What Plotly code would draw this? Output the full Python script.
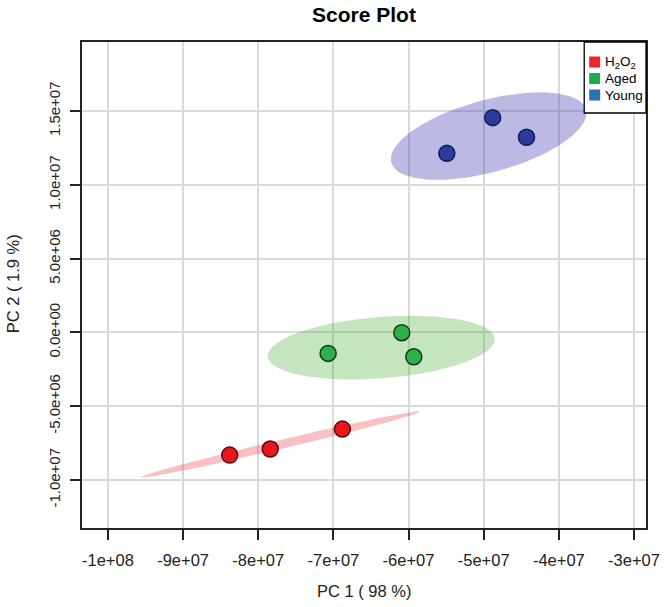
import numpy as np
import plotly.graph_objects as go

# ---- data ----
group_names = ["H<sub>2</sub>O<sub>2</sub>", "Aged", "Young"]
pc1_h2o2 = [-8.38e7, -7.84e7, -6.88e7]
pc2_h2o2 = [-8.31e6, -7.90e6, -6.55e6]
pc1_aged = [-7.07e7, -6.09e7, -5.93e7]
pc2_aged = [-1.42e6, -0.02e6, -1.65e6]
pc1_young = [-5.49e7, -4.88e7, -4.43e7]
pc2_young = [1.213e7, 1.455e7, 1.322e7]

x_tickvals = [-1e8, -9e7, -8e7, -7e7, -6e7, -5e7, -4e7, -3e7]
x_ticktext = ["-1e+08", "-9e+07", "-8e+07", "-7e+07", "-6e+07", "-5e+07", "-4e+07", "-3e+07"]
y_tickvals = [-1e7, -5e6, 0, 5e6, 1e7, 1.5e7]
y_ticktext = ["-1.0e+07", "-5.0e+06", "0.0e+00", "5.0e+06", "1.0e+07", "1.5e+07"]

# ---- styles ----
point_fill = ["#E8171F", "#2EAF4A", "#2B3C9E"]
point_line = ["#5A0A0A", "#0E3A14", "#121C4E"]
ell_fill = ["rgba(235,60,70,0.32)", "rgba(60,170,40,0.30)", "rgba(70,60,180,0.36)"]
legend_col = ["#E8262B", "#1EAA50", "#2D6FBA"]
FONT = "Liberation Sans, Arial, sans-serif"


def conf_ellipse(x, y, level_sq=5.991465, n=240):
    pts = np.vstack([x, y])
    c = np.cov(pts)
    m = pts.mean(axis=1)
    vals, vecs = np.linalg.eigh(c)
    th = np.linspace(0, 2 * np.pi, n)
    circ = np.vstack([np.cos(th), np.sin(th)])
    e = vecs @ (np.sqrt(np.maximum(vals, 0))[:, None] * circ) * np.sqrt(level_sq) + m[:, None]
    return e[0], e[1]


series = [(pc1_h2o2, pc2_h2o2), (pc1_aged, pc2_aged), (pc1_young, pc2_young)]

fig = go.Figure()
for i, (xs, ys) in enumerate(series):
    ex, ey = conf_ellipse(xs, ys)
    fig.add_trace(go.Scatter(x=ex, y=ey, mode="lines", fill="toself",
                             fillcolor=ell_fill[i], line=dict(width=0),
                             hoverinfo="skip", showlegend=False))
for i, (xs, ys) in enumerate(series):
    fig.add_trace(go.Scatter(x=xs, y=ys, mode="markers", name=group_names[i],
                             marker=dict(size=16, color=point_fill[i],
                                         line=dict(color=point_line[i], width=1.5)),
                             showlegend=False))

FIG_W, FIG_H = 672, 607
# plot box in page pixels
L, R_, T, B = 82, 648, 42, 528
W, H = R_ - L, B - T
px = lambda v: (v - L) / W
py = lambda v: (B - v) / H

shapes = [dict(type="rect", xref="paper", yref="paper",
               x0=px(586), x1=px(648), y0=py(113), y1=py(42),
               fillcolor="white", line=dict(color="black", width=1.3), layer="above")]
annotations = []
legend_y = [62, 78.5, 95]
for i, name in enumerate(group_names):
    yc = legend_y[i]
    shapes.append(dict(type="rect", xref="paper", yref="paper",
                       x0=px(591), x1=px(602), y0=py(yc + 5.5), y1=py(yc - 5.5),
                       fillcolor=legend_col[i], line=dict(width=0), layer="above"))
    annotations.append(dict(text=name, xref="paper", yref="paper", x=px(605), y=py(yc),
                            xanchor="left", yanchor="middle", showarrow=False,
                            font=dict(family=FONT, size=13.5, color="black")))

annotations.append(dict(text="PC 1 ( 98 %)", xref="paper", yref="paper", x=0.5, y=py(591),
                        xanchor="center", yanchor="middle", showarrow=False,
                        font=dict(family=FONT, size=16.5, color="#222")))
annotations.append(dict(text="PC 2 ( 1.9 %)", xref="paper", yref="paper", x=px(13), y=py(284),
                        xanchor="center", yanchor="middle", showarrow=False, textangle=-90,
                        font=dict(family=FONT, size=16.5, color="#222")))

fig.update_layout(
    width=FIG_W, height=FIG_H,
    margin=dict(l=L, r=FIG_W - R_, t=T, b=FIG_H - B),
    paper_bgcolor="white", plot_bgcolor="white",
    title=dict(text="<b>Score Plot</b>", x=0.5, xref="paper", y=1 - 15 / FIG_H,
               yref="container", xanchor="center", yanchor="middle",
               font=dict(family=FONT, size=21, color="black")),
    shapes=shapes, annotations=annotations,
    font=dict(family=FONT, color="#222"),
)
fig.update_xaxes(range=[-1.0345e8, -2.84e7], tickvals=x_tickvals, ticktext=x_ticktext,
                 showgrid=True, gridcolor="#DADADA", gridwidth=1.5, zeroline=False,
                 showline=True, linecolor="#222", linewidth=1.5, mirror=True,
                 ticks="outside", ticklen=10, tickwidth=1.5, tickcolor="#222",
                 ticklabelstandoff=6, ticklabeloverflow="allow",
                 tickfont=dict(family=FONT, size=16.5, color="#222"))
fig.update_yaxes(range=[-1.325e7, 1.9675e7], tickvals=y_tickvals, ticktext=y_ticktext,
                 showgrid=True, gridcolor="#DADADA", gridwidth=1.5, zeroline=False,
                 showline=True, linecolor="#222", linewidth=1.5, mirror=True,
                 ticks="outside", ticklen=10, tickwidth=1.5, tickcolor="#222",
                 tickangle=-90, ticklabelstandoff=4, ticklabeloverflow="allow",
                 tickfont=dict(family=FONT, size=15, color="#222"))

# remove the browser's default 8px body margin so the figure sits at the page origin
fig.write_html("out.html", config={"displayModeBar": False},
               post_script="document.body.style.margin='0';document.body.style.overflow='hidden';")
